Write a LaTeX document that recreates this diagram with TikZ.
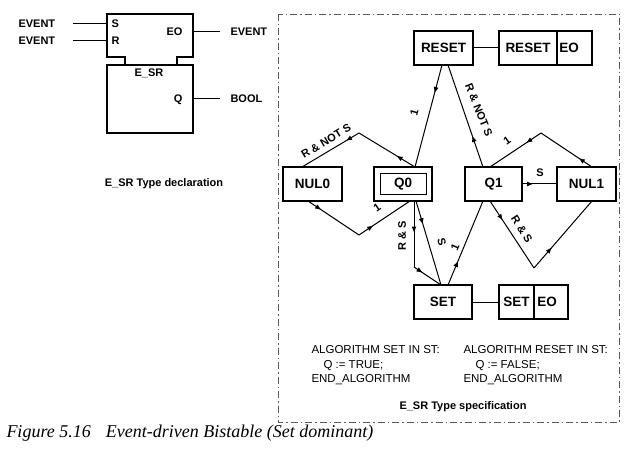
\documentclass[tikz,border=0pt]{standalone}
\usepackage{fontspec}
\setmainfont{Liberation Sans}
\newfontfamily\capfont{Liberation Serif}
\usetikzlibrary{arrows.meta,decorations.markings}
\begin{document}
\begin{tikzpicture}[x=1pt,y=-1pt,
  line width=1pt,
  state/.style={draw, line width=1.2pt, minimum width=#1, minimum height=34pt, inner sep=0pt, outer sep=0pt, font=\bfseries\fontsize{13.5}{15}\selectfont},
  state/.default=58pt,
  stxt/.style={inner sep=0pt, font=\bfseries\fontsize{13.5}{15}\selectfont},
  lab/.style={inner sep=0pt, font=\bfseries\fontsize{11}{12}\selectfont, text height=7.9pt, text depth=0pt},
  tlab/.style={inner sep=0pt, font=\bfseries\fontsize{11}{12}\selectfont, text height=7.9pt, text depth=0pt},
  algo/.style={inner sep=0pt, anchor=base west, font=\fontsize{11.5}{13}\selectfont},
  ttl/.style={inner sep=0pt, anchor=base, font=\bfseries\fontsize{11}{13}\selectfont},
  marr/.style={postaction={decorate}, decoration={markings, mark=at position #1 with {\arrow{Triangle[length=5.5pt,width=4.4pt]}}}},
  frame/.style={draw=black!65, line width=0.9pt, dash pattern=on 7pt off 3pt on 1.5pt off 3pt},
  fbline/.style={line width=1.2pt},
]
\useasboundingbox (0,0) rectangle (629,457);

% ---------- type declaration ----------
\draw[fbline] (125,65) -- (125,57) -- (107,57) -- (107,14) -- (193,14) -- (193,57) -- (177,57) -- (177,65);
\node[draw, line width=1.2pt, minimum width=86pt, minimum height=68pt, inner sep=0pt, outer sep=0pt] (fbbody) at (150,99) {};
\coordinate (sA) at (73,24); \coordinate (sB) at (107,24);
\coordinate (rA) at (73,41); \coordinate (rB) at (107,41);
\coordinate (eoA) at (193,32); \coordinate (eoB) at (220,32);
\coordinate (qA) at (193,99); \coordinate (qB) at (220,99);
\draw (sA) -- (sB);
\draw (rA) -- (rB);
\draw (eoA) -- (eoB);
\draw (qA) -- (qB);
\node[lab, anchor=west] (ev1) at (18,24) {EVENT};
\node[lab, anchor=west] (ev2) at (18,41) {EVENT};
\node[lab, anchor=west] (pS) at (111,24) {S};
\node[lab, anchor=west] (pR) at (111,41) {R};
\node[lab, anchor=east] (pEO) at (183,32) {EO};
\node[lab] (pname) at (149,73) {E\_SR};
\node[lab, anchor=east] (pQ) at (183,99) {Q};
\node[lab, anchor=west] (ev3) at (230,32) {EVENT};
\node[lab, anchor=west] (bool) at (230,99) {BOOL};
\node[ttl] (decl) at (164,187) {E\_SR Type declaration};

% ---------- type specification ----------
\draw[frame] (278,14) rectangle (619,422);

\node[state=59pt] (RESET) at (443.5,48) {RESET};
\node[state=58pt] (REO1) at (528,48) {RESET};
\node[state=35pt] (REO2) at (574.5,48) {};
\node[stxt] (REO2t) at (569,48) {EO};

\node[state=59pt] (NUL0) at (312.5,184) {NUL0};
\node[state=58pt] (Q0) at (403,184) {Q0};
\node[draw, line width=0.8pt, minimum width=46pt, minimum height=21pt, inner sep=0pt] (Q0in) at (403,183.5) {};
\node[state=57pt] (Q1) at (493.5,184) {Q1};
\node[state=59pt] (NUL1) at (586.5,184) {NUL1};

\node[state=58pt] (SET) at (443,302) {SET};
\node[state=35pt] (SEO1) at (516.5,302) {SET};
\node[state=34pt] (SEO2) at (551,302) {};
\node[stxt] (SEO2t) at (547,302) {EO};

\draw (RESET.east) -- (REO1.west);
\draw (SET.east) -- (SEO1.west);

\coordinate (ap0) at (359,133);
\coordinate (lo0) at (359,235);
\coordinate (bA) at (414,267);
\coordinate (ap1) at (541,133);
\coordinate (lo1) at (534,268);

\draw[marr=0.27] ([xshift=-1.5pt]RESET.south) -- ([xshift=12pt]Q0.north);
\draw[marr=0.32] ([xshift=12pt]Q0.north) -- (ap0);
\draw[marr=0.22] (ap0) -- ([xshift=-10.5pt]NUL0.north);
\draw[marr=0.25] ([xshift=-4.5pt]NUL0.south) -- (lo0);
\draw[marr=0.27] (lo0) -- ([xshift=7pt]Q0.south);
\draw[marr=0.47] ([xshift=11pt]Q0.south) -- (bA);
\draw[marr=0.3] (bA) -- ([xshift=-2pt]SET.north);
\draw[marr=0.27] ([xshift=13pt]Q0.south) -- ([xshift=-2pt]SET.north);
\draw[marr=0.28] ([xshift=5pt]SET.north) -- ([xshift=-10.5pt]Q1.south);
\draw[marr=0.3] ([xshift=-10.5pt]Q1.north) -- ([xshift=4.5pt]RESET.south);
\draw[marr=0.25] ([xshift=5.5pt]NUL1.north) -- (ap1);
\draw[marr=0.28] (ap1) -- ([xshift=-3.5pt]Q1.north);
\draw[marr=0.28] ([xshift=-3.5pt]Q1.south) -- (lo1);
\draw[marr=0.3] (lo1) -- ([xshift=5.5pt]NUL1.south);
\draw[marr=0.3] (Q1.east) -- (NUL1.west);

\node[tlab, rotate=75] (t1) at (414,113) {1};
\node[tlab, rotate=-68] (t2) at (479,110) {R \& NOT S};
\node[tlab, rotate=31] (t3) at (326,141) {R \& NOT S};
\node[tlab, rotate=34] (t4) at (377,208) {1};
\node[tlab, rotate=90] (t5) at (402,236) {R \& S};
\node[tlab, rotate=-74] (t6) at (442,242) {S};
\node[tlab, rotate=67] (t7) at (455,247) {1};
\node[tlab, rotate=-57] (t8) at (522,229) {R \& S};
\node[tlab, rotate=34] (t9) at (507,141) {1};
\node[tlab] (t10) at (540,173) {S};

\node[algo] (a1) at (311,353) {ALGORITHM SET IN ST:};
\node[algo] (a2) at (323,368) {Q := TRUE;};
\node[algo] (a3) at (311,382.5) {END\_ALGORITHM};
\node[algo] (b1) at (463,353) {ALGORITHM RESET IN ST:};
\node[algo] (b2) at (475,368) {Q := FALSE;};
\node[algo] (b3) at (463,382.5) {END\_ALGORITHM};
\node[ttl] (spec) at (463,409) {E\_SR Type specification};

\node[anchor=base west, inner sep=0pt, font=\capfont\itshape\fontsize{18}{20}\selectfont] (cap) at (6,437) {Figure 5.16\hspace{15pt}Event-driven Bistable (Set dominant)};
\end{tikzpicture}
\end{document}
